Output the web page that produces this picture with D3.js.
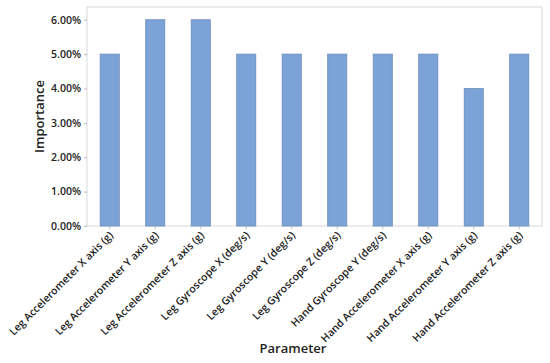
<!DOCTYPE html>
<html lang="en">
<head>
<meta charset="utf-8">
<title>Importance by Parameter</title>
<script src="https://d3js.org/d3.v7.min.js"></script>
<style>
  body { margin: 0; background: #fff; font-family: 'Open Sans', 'Noto Sans', sans-serif; }
  .tick text { fill: #222; }
</style>
</head>
<body>
<script>
// data
var parameters = [
  "Leg Accelerometer X axis (g)",
  "Leg Accelerometer Y axis (g)",
  "Leg Accelerometer Z axis (g)",
  "Leg Gyroscope X (deg/s)",
  "Leg Gyroscope Y (deg/s)",
  "Leg Gyroscope Z (deg/s)",
  "Hand Gyroscope Y (deg/s)",
  "Hand Accelerometer X axis (g)",
  "Hand Accelerometer Y axis (g)",
  "Hand Accelerometer Z axis (g)"
];
var importance = [0.05, 0.06, 0.06, 0.05, 0.05, 0.05, 0.05, 0.05, 0.04, 0.05];
var yTicks = [0, 0.01, 0.02, 0.03, 0.04, 0.05, 0.06];

var w = 550, h = 363;
var margin = {left: 87, right: 8, top: 7, bottom: 137};

var svg = d3.select("body").append("svg")
  .attr("width", w)
  .attr("height", h);

var x = d3.scaleBand()
  .domain(parameters)
  .range([margin.left, w - margin.right])
  .paddingInner(0.58)
  .paddingOuter(0.29);

var y = d3.scaleLinear()
  .domain([0, 0.0637])
  .range([h - margin.bottom, margin.top]);

// plot frame
svg.append("rect")
  .attr("x", margin.left)
  .attr("y", margin.top)
  .attr("width", w - margin.right - margin.left)
  .attr("height", h - margin.bottom - margin.top)
  .style("fill", "none")
  .style("stroke", "#d9d9d9")
  .style("stroke-width", 1);

svg.selectAll("rect.bar")
  .data(importance)
  .enter()
  .append("rect")
  .attr("class", "bar")
  .attr("x", function(d, i) { return x(parameters[i]); })
  .attr("width", x.bandwidth())
  .attr("y", function(d) { return y(d); })
  .attr("height", function(d) { return y(0) - y(d); })
  .style("fill", "#7ba3d8")
  .style("stroke", "#6a8cba")
  .style("stroke-width", 0.8);

var yAxis = d3.axisLeft(y)
  .tickValues(yTicks)
  .tickFormat(d3.format(".2%"))
  .tickSize(3)
  .tickPadding(3);

var gy = svg.append("g")
  .attr("transform", "translate(" + margin.left + ",0)")
  .call(yAxis);
gy.select(".domain").remove();
gy.selectAll(".tick line").style("stroke", "#bbb");
gy.selectAll(".tick text")
  .style("font-size", "10.5px")
  .style("font-weight", 600)
  .style("font-family", "'Open Sans', sans-serif");

var xAxis = d3.axisBottom(x)
  .tickSize(3)
  .tickPadding(2);

var gx = svg.append("g")
  .attr("transform", "translate(0," + (h - margin.bottom) + ")")
  .call(xAxis);
gx.select(".domain").remove();
gx.selectAll(".tick line").style("stroke", "#bbb");
gx.selectAll(".tick text")
  .style("font-size", "10.5px")
  .style("font-weight", 600)
  .style("font-family", "'Open Sans', sans-serif")
  .attr("text-anchor", "end")
  .attr("dy", null)
  .attr("y", 0)
  .attr("transform", "translate(4,10) rotate(-45)");

svg.append("text")
  .attr("x", 293)
  .attr("y", 353)
  .attr("text-anchor", "middle")
  .style("font-size", "13px")
  .style("font-weight", 600)
  .style("fill", "#222")
  .text("Parameter");

svg.append("text")
  .attr("transform", "translate(44," + ((margin.top + h - margin.bottom) / 2) + ") rotate(-90)")
  .attr("text-anchor", "middle")
  .style("font-size", "13px")
  .style("font-weight", 600)
  .style("fill", "#222")
  .text("Importance");
</script>
</body>
</html>
